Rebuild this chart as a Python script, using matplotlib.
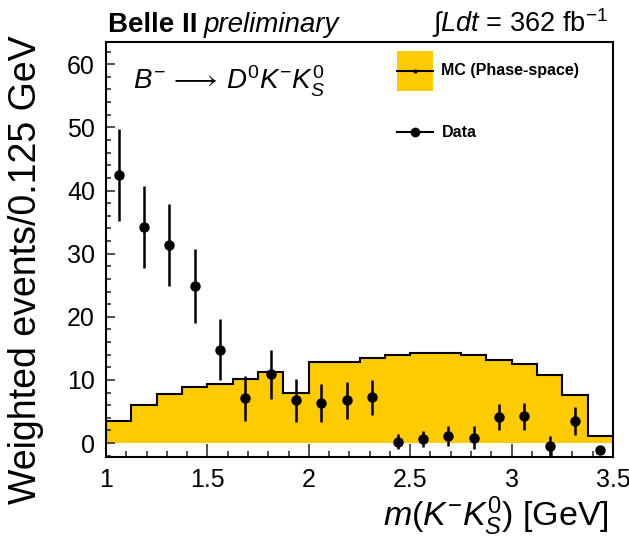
import matplotlib
matplotlib.use("Agg")
import matplotlib.pyplot as plt
from matplotlib.lines import Line2D
from matplotlib.patches import Patch
from matplotlib.legend_handler import HandlerLine2D
from matplotlib.ticker import MultipleLocator, FuncFormatter
import numpy as np

plt.rcParams.update({
    "font.family": ["Liberation Sans", "DejaVu Sans"],
    "mathtext.fontset": "custom",
    "mathtext.rm": "Liberation Sans",
    "mathtext.it": "Liberation Sans:italic",
    "mathtext.bf": "Liberation Sans:bold",
})

# 20 bins of 0.125 GeV between 1.0 and 3.5 GeV
bin_edges = np.linspace(1.0, 3.5, 21)
mc_phase_space = [3.5, 6.1, 7.7, 8.9, 9.4, 10.2, 11.2, 7.9, 12.9, 12.9,
                  13.5, 13.9, 14.2, 14.2, 13.9, 13.2, 12.6, 10.8, 7.6, 1.1]
data_values = [42.4, 34.2, 31.4, 24.9, 14.8, 7.1, 10.9, 6.75, 6.3, 6.75,
               7.25, 0.24, 0.66, 1.14, 0.87, 4.1, 4.25, -0.45, 3.45, -1.1]
data_errors = [7.3, 6.5, 6.45, 5.85, 4.85, 3.6, 3.9, 3.4, 3.0, 2.9,
               2.8, 1.2, 1.3, 1.6, 1.8, 2.05, 2.1, 1.6, 2.2, 0.0]

YELLOW = "#FECB00"
W, H = 629, 539


class CenteredLine(HandlerLine2D):
    # ROOT-style legend: line sits in the middle of the tall handle box
    def create_artists(self, legend, orig_handle, xdescent, ydescent, width,
                       height, fontsize, trans):
        artists = super().create_artists(legend, orig_handle, xdescent, ydescent,
                                         width, height, fontsize, trans)
        for a in artists:
            a.set_ydata(np.full(len(a.get_ydata()), height / 2 - ydescent))
        return artists


fig = plt.figure(figsize=(W / 100, H / 100), dpi=100)
ax = fig.add_axes([106 / W, 1 - 457 / H, (613 - 106) / W, (457 - 41.5) / H])

centers = 0.5 * (bin_edges[:-1] + bin_edges[1:])
ax.stairs(mc_phase_space, bin_edges, baseline=0, fill=True, color=YELLOW, zorder=1)
ax.stairs(mc_phase_space, bin_edges, baseline=0, color="black", linewidth=1.5, zorder=2)
ax.errorbar(centers, data_values, yerr=data_errors, fmt="o", color="black",
            markersize=6.5, elinewidth=1.8, capsize=0, zorder=3)

ax.set_xlim(1.0, 3.5)
ax.set_ylim(-2.2, 63.6)
ax.xaxis.set_major_locator(MultipleLocator(0.5))
ax.xaxis.set_minor_locator(MultipleLocator(0.1))
ax.yaxis.set_major_locator(MultipleLocator(10))
ax.yaxis.set_minor_locator(MultipleLocator(2))
ax.xaxis.set_major_formatter(FuncFormatter(lambda v, p: f"{v:g}"))
ax.tick_params(axis="both", which="both", direction="in", top=False, right=False,
               labelsize=18, width=1.2, color="#333333")
ax.tick_params(axis="x", which="major", length=9.5, pad=8)
ax.tick_params(axis="x", which="minor", length=4.5)
ax.tick_params(axis="y", which="major", length=6.5, pad=8)
ax.tick_params(axis="y", which="minor", length=3.5)
for s in ax.spines.values():
    s.set_linewidth(1.5)

ax.set_ylabel("Weighted events/0.125 GeV", fontsize=27)
ax.yaxis.set_label_coords(-0.122, 0.452)
ax.set_xlabel(r"$m(K^{-}K^{0}_{S})$ [GeV]", fontsize=24.5, ha="right", x=0.992, labelpad=2)

ax.text(0.054, 0.905, r"$B^{-}\,\longrightarrow\,D^{0}K^{-}K^{0}_{S}$", transform=ax.transAxes,
        fontsize=20, va="center")

fig.text(108 / W, 1 - 32 / H, "Belle II", fontsize=20, fontweight="bold", va="baseline")
fig.text(204 / W, 1 - 32 / H, "preliminary", fontsize=20, style="italic", va="baseline")
fig.text(608 / W, 1 - 32 / H, r"$\int Ldt$ = 362 fb$^{-1}$", fontsize=19.5,
         ha="right", va="baseline")

mc_handle = (Patch(facecolor=YELLOW, edgecolor="none"),
             Line2D([0], [0], color="black", linewidth=1.5, marker="o", markersize=2))
data_handle = Line2D([0], [0], color="black", linewidth=1.5, marker="o", markersize=6)
ax.legend([mc_handle, data_handle], ["MC (Phase-space)", "Data"],
          handler_map={Line2D: CenteredLine()},
          loc="upper left", bbox_to_anchor=((396.7 - 106) / 507, 1 - (50.7 - 41.5) / 415.5),
          frameon=False, borderpad=0, borderaxespad=0,
          prop={"weight": "bold", "size": 11.5},
          handlelength=2.3, handleheight=3.5, labelspacing=1.34, handletextpad=0.5)

fig.savefig("out.png", dpi=100)
